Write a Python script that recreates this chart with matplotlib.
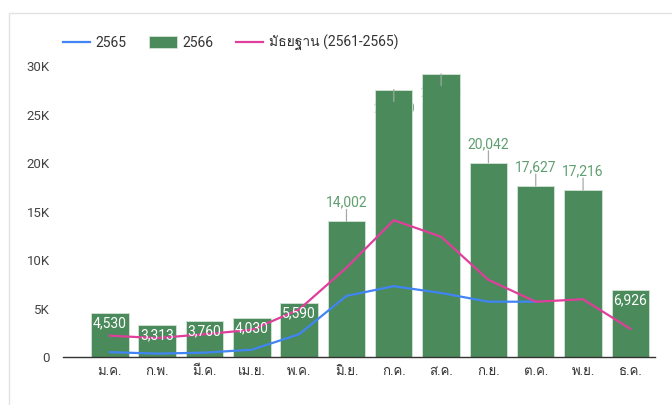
import matplotlib
matplotlib.use("Agg")
import matplotlib.pyplot as plt
from matplotlib import font_manager
from matplotlib.ft2font import FT2Font
from matplotlib.patches import Rectangle
from matplotlib.lines import Line2D
import numpy as np

months = ["ม.ค.", "ก.พ.", "มี.ค.", "เม.ย.", "พ.ค.", "มิ.ย.",
          "ก.ค.", "ส.ค.", "ก.ย.", "ต.ค.", "พ.ย.", "ธ.ค."]
cases_2566 = [4530, 3313, 3760, 4030, 5590, 14002,
              27570, 29180, 20042, 17627, 17216, 6926]
cases_2565 = [500, 350, 450, 750, 2350, 6300, 7300, 6600, 5700, 5700]
median_61_65 = [2200, 1950, 2350, 2800, 4900, 9200,
                14100, 12400, 7950, 5700, 5950, 2900]
yticks = [0, 5000, 10000, 15000, 20000, 25000, 30000]
ytick_labels = ["0", "5K", "10K", "15K", "20K", "25K", "30K"]
legend_labels = ["2565", "2566", "มัธยฐาน (2561-2565)"]

BAR = "#4a8a5b"
BLUE = "#4184f3"
PINK = "#df3f9b"
LABEL_GREEN = "#5f9e6f"


def find_thai_family():
    # หาฟอนต์ที่มีอักษรไทย
    for f in font_manager.fontManager.ttflist:
        try:
            ft = FT2Font(f.fname)
            if ft.get_char_index(0x0E21) and ft.get_char_index(0x0E31):
                return f.name
        except Exception:
            continue
    return None


thai = find_thai_family()
families = ["Roboto"] + ([thai] if thai else []) + ["DejaVu Sans"]
plt.rcParams["font.family"] = families

fig = plt.figure(figsize=(6.72, 4.05), dpi=100)
fig.patches.append(Rectangle((9 / 672, -0.1), 1.2, 1 - 13 / 405 + 0.1,
                             transform=fig.transFigure, fill=False,
                             edgecolor="#e2e2e2", lw=1))
ax = fig.add_axes([63 / 672, 1 - 357 / 405, 592 / 672, (357 - 66) / 405])

x = np.arange(len(months))
ax.bar(x, cases_2566, width=0.79, color=BAR, edgecolor="#d5e4d8",
       linewidth=0.6, zorder=2)
ax.plot(np.arange(len(cases_2565)), cases_2565, color=BLUE, lw=1.6, zorder=3)
ax.plot(x, median_61_65, color=PINK, lw=1.6, zorder=3)

for i, v in enumerate(cases_2566):
    txt = f"{v:,}"
    if v < 10000:
        ax.annotate(txt, (i, v), xytext=(0, -7.5), textcoords="offset points",
                    ha="center", va="center", color="white", fontsize=10,
                    zorder=5)
    elif v < 25000:
        ax.annotate("", (i, v), xytext=(0, 8.5), textcoords="offset points",
                    arrowprops=dict(arrowstyle="-", color="#a8a8a8", lw=0.9,
                                    shrinkA=0, shrinkB=0), zorder=4)
        ax.annotate(txt, (i, v), xytext=(0, 13.5), textcoords="offset points",
                    ha="center", va="center", color=LABEL_GREEN, fontsize=10,
                    zorder=5)
    else:
        # ป้ายซ้อนอยู่ในแท่ง (สีเดียวกับแท่ง)
        ax.annotate("", (i, v), xytext=(0, -8.5), textcoords="offset points",
                    arrowprops=dict(arrowstyle="-", color="#9aaa9e", lw=0.9,
                                    shrinkA=0, shrinkB=0), zorder=4)
        ax.annotate(txt, (i, v), xytext=(0, -13.5), textcoords="offset points",
                    ha="center", va="center", color=BAR, fontsize=10,
                    zorder=1.5)

ax.set_xlim(-0.99, 11.52)
ax.set_ylim(0, 30000)
ax.set_yticks(yticks)
ax.set_yticklabels(ytick_labels)
ax.set_xticks(x)
ax.set_xticklabels(months)
ax.tick_params(axis="y", length=0, pad=9.5, labelsize=9.5, labelcolor="#444444")
ax.tick_params(axis="x", length=0, pad=6, labelsize=9.5, labelcolor="#333333")
for s in ["top", "right", "left"]:
    ax.spines[s].set_visible(False)
ax.spines["bottom"].set_color("#333333")
ax.spines["bottom"].set_linewidth(1)
ax.spines["bottom"].set_zorder(6)

handles = [Line2D([], [], color=BLUE, lw=1.6),
           Rectangle((0, 0), 1, 1, facecolor=BAR, edgecolor="#d5e4d8", lw=0.6),
           Line2D([], [], color=PINK, lw=1.6)]
fig.legend(handles, legend_labels, loc="center left",
           bbox_to_anchor=(50 / 672, 1 - 43 / 405), ncol=3, frameon=False,
           fontsize=10, handlelength=2.0, handleheight=0.95,
           columnspacing=1.6, handletextpad=0.4, labelcolor="#333333")

fig.savefig("out.png", dpi=100)
